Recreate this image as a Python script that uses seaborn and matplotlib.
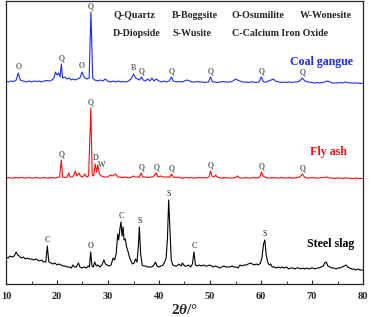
import matplotlib
matplotlib.use("Agg")
import matplotlib.pyplot as plt
from matplotlib.ticker import MultipleLocator
import seaborn as sns
import pandas as pd

# ---------------- data (2theta in degrees, intensity in a.u., offset curves) -------------
tt_coal = [10.0, 10.5, 11.0, 11.5, 12.0, 12.4, 12.8, 13.3, 14.0, 14.5, 15.0, 15.5, 16.0, 16.5, 17.0, 17.5,
           18.0, 18.5, 19.0, 19.4, 19.7, 20.0, 20.3, 20.6, 20.85, 21.1, 21.5, 22.0, 22.4, 22.8, 23.2, 23.6,
           24.0, 24.5, 24.9, 25.3, 25.8, 26.3, 26.65, 27.0, 27.4, 28.0, 28.5, 29.0, 29.5, 29.9, 30.5, 31.0,
           31.5, 32.0, 32.5, 33.0, 33.5, 34.0, 34.5, 35.0, 35.4, 35.8, 36.2, 36.55, 36.9, 37.3, 37.8, 38.2,
           38.6, 39.0, 39.5, 40.0, 40.5, 41.0, 41.5, 42.0, 42.45, 42.8, 43.5, 44.0, 44.5, 45.0, 45.5, 46.0,
           46.5, 47.0, 47.5, 48.0, 48.5, 49.0, 49.7, 50.1, 50.5, 51.0, 51.5, 52.0, 52.5, 53.0, 54.0, 54.5,
           55.0, 55.4, 55.8, 56.5, 57.0, 57.5, 58.0, 58.5, 59.0, 59.6, 60.05, 60.5, 61.0, 61.5, 62.0, 62.4,
           62.8, 63.5, 64.0, 64.5, 65.0, 65.5, 66.0, 66.5, 67.0, 67.6, 68.1, 68.6, 69.2, 70.0, 70.5, 71.0,
           71.5, 72.0, 72.5, 73.0, 73.5, 74.0, 75.0, 75.5, 76.0, 76.5, 77.0, 77.5, 78.0, 79.0, 79.5, 80.0]
I_coal = [203, 202, 203, 202.5, 204, 211, 204, 203, 202, 203, 202, 203, 202.5, 203, 202, 203,
          203.5, 203, 204, 206, 212, 209, 211, 207, 220, 206, 207, 205, 206, 204, 205, 204,
          205, 206, 212, 207, 205, 206, 272, 206, 204, 203, 204, 203, 205, 203, 202, 203,
          202, 203, 202, 202.5, 202, 203, 205, 210, 206, 205, 204, 207, 204, 203, 205, 203,
          206, 203, 205, 203, 202, 203, 202, 203, 207, 203, 202, 202.5, 202, 203, 204, 203,
          202, 202, 202.5, 202, 202, 201.5, 202, 207, 202, 202, 201.5, 202, 202.5, 202, 202, 203,
          205, 204, 203, 202, 202, 201.5, 202, 202, 201.5, 202, 207, 202, 202, 203, 204, 205,
          203, 202, 201.5, 202, 201.5, 202, 201.5, 202, 202, 203, 206, 203, 202, 201.5, 201, 201.5,
          201, 201.5, 202, 203, 202, 201, 201, 201.5, 201, 202, 201.5, 201, 201, 201, 200.5, 201]

tt_fly = [10.0, 10.5, 11.0, 11.5, 12.0, 12.5, 13.0, 13.5, 14.0, 14.5, 15.0, 15.5, 16.0, 16.5, 17.0, 17.5,
          18.0, 18.5, 19.0, 19.5, 20.0, 20.5, 20.85, 21.1, 21.5, 22.0, 22.3, 22.6, 23.0, 23.3, 23.6, 23.9,
          24.3, 24.6, 25.0, 25.5, 25.8, 26.2, 26.63, 26.9, 27.2, 27.5, 27.75, 28.0, 28.3, 28.7, 29.2, 29.6,
          30.0, 30.4, 30.8, 31.2, 31.5, 31.9, 32.3, 32.8, 33.3, 33.8, 34.2, 34.6, 35.0, 35.3, 35.8, 36.15,
          36.5, 36.8, 37.3, 37.8, 38.3, 38.8, 39.45, 39.8, 40.3, 40.8, 41.2, 41.8, 42.2, 42.45, 42.8, 43.3,
          43.8, 44.3, 44.8, 45.3, 45.8, 46.3, 46.8, 47.3, 47.8, 48.3, 48.8, 49.3, 49.8, 50.1, 50.4, 50.8,
          51.1, 51.4, 52.0, 52.5, 53.0, 53.5, 54.0, 54.5, 55.0, 55.4, 55.8, 56.5, 57.0, 57.5, 58.0, 58.5,
          59.0, 59.5, 59.8, 60.1, 60.4, 60.9, 61.5, 62.0, 62.5, 63.0, 63.5, 64.0, 64.5, 65.0, 65.5, 66.0,
          66.5, 67.0, 67.6, 68.15, 68.5, 69.0, 69.5, 70.0, 70.5, 71.0, 71.5, 72.0, 72.5, 73.0, 73.3, 74.0,
          74.5, 75.0, 75.5, 76.0, 76.5, 77.0, 77.5, 78.0, 78.5, 79.0, 79.5, 80.0]
I_fly = [106, 106.5, 106, 106, 106.5, 106, 106.5, 106, 106, 106.5, 106, 106, 106.5, 106, 106, 106.5,
         106, 106, 106.5, 106, 106.5, 107, 124, 107, 106.5, 107, 111, 107, 107, 109, 113, 108,
         111, 108, 107, 110, 107, 108, 176, 109, 108, 120, 112, 119, 110, 108, 107, 107,
         107, 109, 108, 109, 110, 107, 107, 106.5, 107, 106.5, 106, 107, 108, 107, 107, 107,
         111, 107, 107, 106.5, 107, 107, 111, 107, 108, 107, 107, 107, 107, 110, 107, 106.5,
         107, 106, 106, 106.5, 106, 106.5, 106, 106, 106.5, 106, 106.5, 106, 107, 113, 108, 107,
         109, 107, 106, 106, 106.5, 106, 106, 106, 106.5, 108, 106, 106, 106.5, 106, 106, 106.5,
         106, 106.5, 107, 112, 108, 106.5, 106, 106, 106.5, 106, 106, 106.5, 106, 106, 106.5, 106,
         106, 106.5, 107, 110, 107, 106, 106, 106.5, 106, 106, 106, 106.5, 106.5, 107, 106, 106,
         105.5, 106, 106, 105.5, 106, 106, 105.5, 105.5, 106, 105.5, 105.5, 105.5]

tt_slag = [10.0, 10.4, 10.8, 11.2, 11.6, 12.0, 12.3, 12.6, 13.0, 13.4, 13.8, 14.2, 14.6, 15.0, 15.4, 15.8,
           16.2, 16.6, 17.0, 17.4, 17.8, 18.1, 18.4, 18.8, 19.2, 19.6, 20.0, 20.4, 20.8, 21.2, 21.6, 22.0,
           22.4, 22.8, 23.1, 23.4, 23.8, 24.2, 24.5, 24.9, 25.3, 25.7, 26.1, 26.35, 26.6, 26.85, 27.1, 27.4,
           27.7, 28.0, 28.4, 28.8, 29.2, 29.5, 29.8, 30.2, 30.6, 31.0, 31.3, 31.6, 31.9, 32.1, 32.35, 32.55,
           32.75, 32.95, 33.15, 33.4, 33.6, 33.9, 34.2, 34.5, 34.8, 35.1, 35.4, 35.7, 35.95, 36.15, 36.4, 36.7,
           37.0, 37.4, 37.8, 38.2, 38.6, 39.0, 39.3, 39.6, 40.0, 40.4, 40.8, 41.1, 41.4, 41.65, 41.9, 42.15,
           42.4, 42.7, 43.1, 43.5, 43.9, 44.3, 44.6, 45.0, 45.4, 45.8, 46.2, 46.55, 46.85, 47.15, 47.5, 47.9,
           48.3, 48.7, 49.1, 49.5, 49.9, 50.3, 50.7, 51.1, 51.5, 51.9, 52.3, 52.7, 53.1, 53.5, 53.9, 54.3,
           54.7, 55.1, 55.5, 55.9, 56.3, 56.7, 57.1, 57.5, 57.9, 58.3, 58.7, 59.1, 59.5, 59.9, 60.2, 60.5,
           60.75, 61.0, 61.3, 61.6, 61.9, 62.2, 62.6, 63.0, 63.4, 63.8, 64.2, 64.6, 65.0, 65.4, 65.8, 66.2,
           66.6, 67.0, 67.4, 67.8, 68.2, 68.6, 69.0, 69.4, 69.8, 70.2, 70.6, 71.0, 71.4, 71.8, 72.2, 72.5,
           72.8, 73.1, 73.5, 73.9, 74.3, 74.7, 75.1, 75.5, 75.9, 76.3, 76.7, 77.0, 77.4, 77.8, 78.2, 78.6,
           79.0, 79.4, 79.8, 80.0]
I_slag = [27, 26, 28, 27, 28, 32, 29, 28, 26, 27, 25, 26, 25, 25, 24, 25,
          24, 23, 24, 22, 22, 38, 22, 21, 20, 21, 19, 20, 19, 18, 18, 17,
          17, 16, 19, 17, 17, 21, 17, 16, 17, 16, 18, 17, 32, 18, 17, 22,
          18, 19, 17, 19, 24, 20, 19, 18, 19, 26, 24, 30, 50, 44, 56, 62,
          48, 57, 44, 45, 38, 33, 27, 23, 20, 21, 25, 22, 38, 57, 30, 19,
          18, 18, 17, 17, 17, 19, 22, 18, 17, 18, 19, 22, 26, 45, 84, 55,
          24, 19, 18, 18, 20, 18, 21, 18, 18, 19, 17, 20, 32, 19, 18, 19,
          18, 19, 18, 18, 19, 18, 17, 18, 17, 16, 17, 18, 17, 17, 17, 18,
          17, 17, 16, 19, 18, 19, 19, 20, 21, 20, 19, 20, 19, 21, 27, 40,
          44, 30, 22, 19, 20, 17, 17, 16, 17, 16, 17, 16, 17, 15, 16, 16,
          15, 16, 16, 15, 16, 15, 16, 15, 16, 16, 15, 16, 16, 17, 18, 21,
          22, 18, 17, 16, 16, 15, 16, 16, 17, 18, 19, 17, 16, 15, 15, 14,
          15, 14, 14, 14]

samples = ["Coal gangue", "Fly ash", "Steel slag"]
sample_colors = ["#1a2cff", "#ff0a0a", "#000000"]

# peak phase labels: (2theta of peak, letter)
peaks_coal = [(12.4, "O"), (20.85, "Q"), (24.9, "O"), (26.65, "Q"), (35.0, "B"), (36.55, "Q"),
              (42.45, "Q"), (50.1, "Q"), (60.05, "Q"), (68.1, "Q")]
peaks_fly = [(20.85, "Q"), (26.63, "Q"), (27.5, "D"), (28.0, "W"), (36.5, "Q"), (39.45, "Q"),
             (42.45, "Q"), (50.1, "Q"), (60.1, "Q"), (68.15, "Q")]
peaks_slag = [(18.1, "C"), (26.6, "O"), (32.55, "C"), (36.15, "S"), (41.9, "S"), (46.85, "C"),
              (60.75, "S")]

legend_lines = [["Q-Quartz", "B-Boggsite", "O-Osumilite", "W-Wonesite"],
                ["D-Diopside", "S-Wusite", "C-Calcium Iron Oxide"]]

x_ticks = [10, 20, 30, 40, 50, 60, 70, 80]

# ---------------- plotting -------------
sns.set_style("ticks")
plt.rcParams["font.family"] = ["Liberation Serif", "DejaVu Serif"]
plt.rcParams["mathtext.fontset"] = "custom"
plt.rcParams["mathtext.rm"] = "Liberation Serif:bold"
plt.rcParams["mathtext.it"] = "Liberation Serif:italic:bold"
plt.rcParams["mathtext.bf"] = "Liberation Serif:bold"

frames = []
for name, tt, ii in zip(samples, [tt_coal, tt_fly, tt_slag], [I_coal, I_fly, I_slag]):
    frames.append(pd.DataFrame({"2theta": tt, "I": ii, "sample": name}))
df = pd.concat(frames, ignore_index=True)

fig = plt.figure(figsize=(3.71, 3.17), dpi=100)
ax = fig.add_axes([6 / 371, 1 - 284 / 317, 357 / 371, 283 / 317])

sns.lineplot(data=df, x="2theta", y="I", hue="sample", palette=dict(zip(samples, sample_colors)),
             ax=ax, linewidth=0.8, legend=False, sort=False, estimator=None)

ax.set_xlim(10, 80)
ax.set_ylim(0, 283)
ax.set_yticks([])
ax.set_ylabel("")
ax.set_xticks(x_ticks)
ax.set_xticklabels([str(t) for t in x_ticks], fontweight="bold", fontsize=7.5)
ax.xaxis.set_minor_locator(MultipleLocator(5))
ax.tick_params(axis="x", which="major", direction="in", length=3, width=0.8, pad=6, top=False)
ax.tick_params(axis="x", which="minor", direction="in", length=2, width=0.6, top=False)
for s in ax.spines.values():
    s.set_linewidth(0.9)
    s.set_visible(True)
ax.set_xlabel(r"$\mathrm{2}\mathit{\theta}\mathit{/°}$", fontsize=11, labelpad=1)

# peak letters
for peaks, tt, ii in [(peaks_coal, tt_coal, I_coal), (peaks_fly, tt_fly, I_fly), (peaks_slag, tt_slag, I_slag)]:
    for x, lab in peaks:
        idx = tt.index(x)
        dx = 2.5 if lab == "W" else 0
        dy = -3 if lab == "W" else 1.2
        ax.annotate(lab, xy=(x, ii[idx]), xytext=(dx, dy), textcoords="offset points",
                    ha="center", va="bottom", fontsize=5.8)

# sample names
ax.text(0.885, (284 - 62) / 283, samples[0], transform=ax.transAxes, ha="center", va="center",
        color=sample_colors[0], fontsize=8.6, fontweight="bold")
ax.text(0.902, (284 - 152) / 283, samples[1], transform=ax.transAxes, ha="center", va="center",
        color=sample_colors[1], fontsize=8.6, fontweight="bold")
ax.text(0.910, (284 - 244) / 283, samples[2], transform=ax.transAxes, ha="center", va="center",
        color=sample_colors[2], fontsize=8.6, fontweight="bold")

# phase legend text
col_x = [(113 - 6) / 357, (172 - 6) / 357, (232 - 6) / 357, (300 - 6) / 357]
row_y = [(284 - 15) / 283, (284 - 33) / 283]
for r, line in enumerate(legend_lines):
    for c, txt in enumerate(line):
        ax.text(col_x[c], row_y[r], txt, transform=ax.transAxes, ha="left", va="center",
                fontsize=7.2, fontweight="bold")

fig.savefig("out.png", dpi=100)
